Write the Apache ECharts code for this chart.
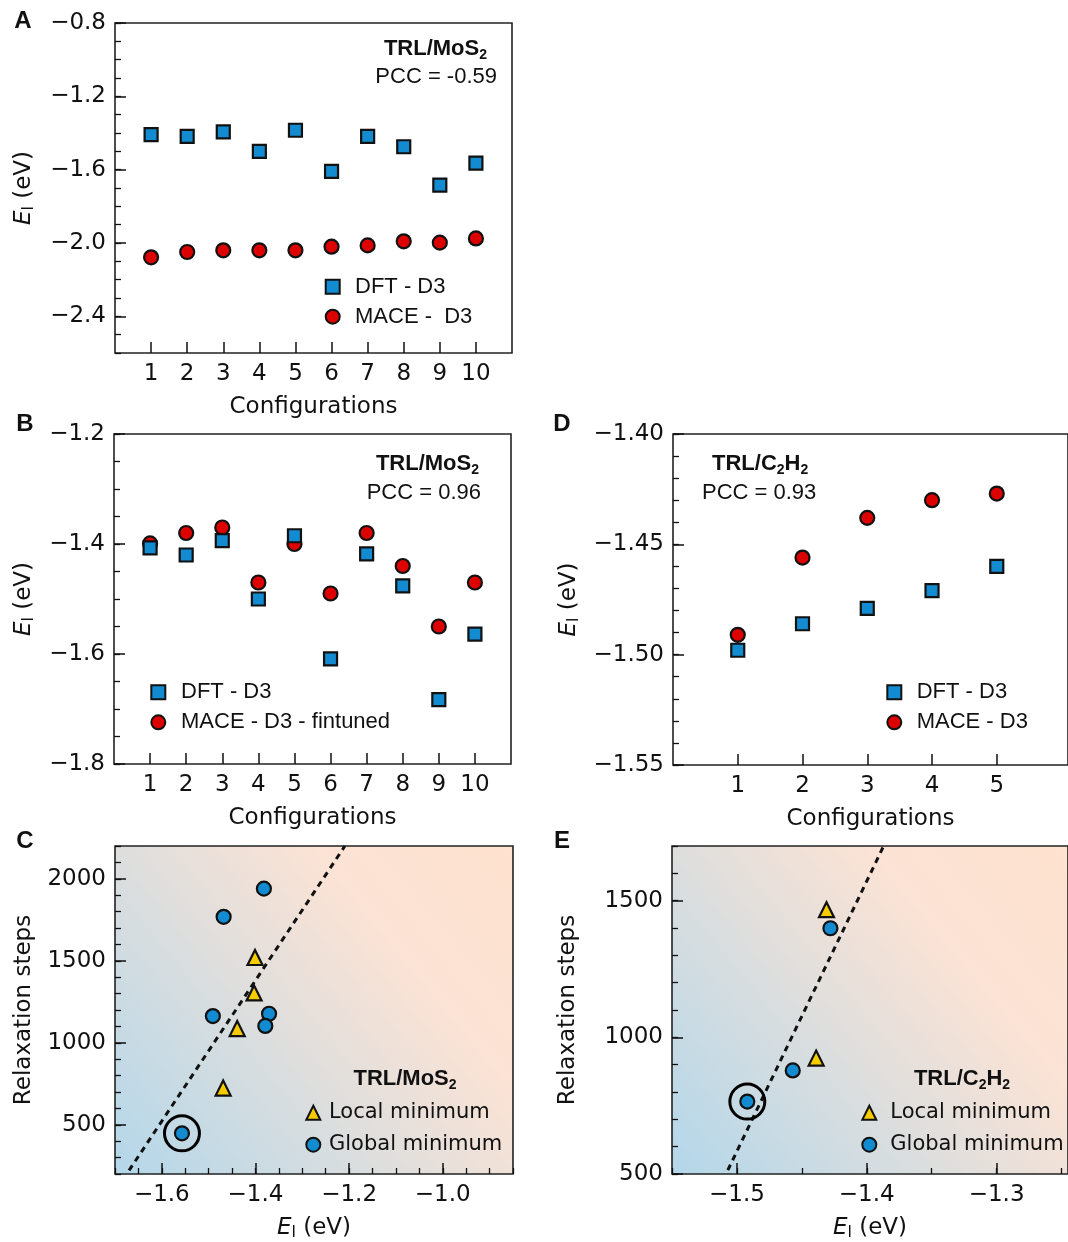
<!DOCTYPE html>
<html>
<head>
<meta charset="utf-8">
<script src="https://cdn.jsdelivr.net/npm/echarts@6/dist/echarts.min.js"></script>
<style>
  html, body { margin: 0; padding: 0; background: #fff; }
  #chart { width: 1068px; height: 1242px; }
</style>
</head>
<body>
<div id="chart"></div>
<script>
// ---------- data ----------
// A: TRL/MoS2, DFT vs MACE (not finetuned)
const configsA = [1, 2, 3, 4, 5, 6, 7, 8, 9, 10];
const dftA  = [-1.409, -1.418, -1.394, -1.500, -1.385, -1.609, -1.418, -1.475, -1.684, -1.564];
const maceA = [-2.078, -2.049, -2.040, -2.040, -2.040, -2.020, -2.013, -1.991, -1.998, -1.975];
// B: TRL/MoS2, DFT vs MACE finetuned
const dftB  = [-1.407, -1.420, -1.394, -1.500, -1.385, -1.609, -1.418, -1.476, -1.683, -1.564];
const maceB = [-1.399, -1.380, -1.370, -1.470, -1.400, -1.490, -1.380, -1.440, -1.550, -1.470];
// D: TRL/C2H2
const configsD = [1, 2, 3, 4, 5];
const dftD  = [-1.498, -1.486, -1.479, -1.471, -1.460];
const maceD = [-1.491, -1.456, -1.438, -1.430, -1.427];
// C: [E_I (eV), relaxation steps]
const localC  = [[-1.401, 1520], [-1.403, 1304], [-1.439, 1087], [-1.469, 724]];
const globalC = [[-1.557, 448], [-1.468, 1768], [-1.382, 1940], [-1.491, 1163], [-1.371, 1177], [-1.379, 1103]];
const fitC    = [[-1.670, 222], [-1.209, 2200]];
const ringC   = [globalC[0]];
// E
const localE  = [[-1.431, 1467], [-1.439, 924]];
const globalE = [[-1.428, 1399], [-1.457, 879], [-1.492, 765]];
const fitE    = [[-1.507, 514], [-1.387, 1700]];
const ringE   = [globalE[2]];

// tick labels
const ticksA_y = [-2.4, -2.0, -1.6, -1.2, -0.8];
const ticksB_y = [-1.8, -1.6, -1.4, -1.2];
const ticksD_y = [-1.55, -1.50, -1.45, -1.40];
const ticksC_x = [-1.6, -1.4, -1.2, -1.0];
const ticksC_y = [500, 1000, 1500, 2000];
const ticksE_x = [-1.5, -1.4, -1.3];
const ticksE_y = [500, 1000, 1500];

// ---------- styles ----------
const BLUE = '#138bd0';
const RED = '#dd0000';
const YELLOW = '#f6cc00';
const INK = '#111';
const TICK_FONT = 'DejaVu Sans';
const ARIAL = 'Liberation Sans';

function minorTicks(min, max, step) {
  const out = [];
  for (let v = min; v <= max + 1e-9; v += step) out.push(+v.toFixed(4));
  return out;
}
function fmt(v, dec) {
  return (v < 0 ? '\u2212' : '') + Math.abs(v).toFixed(dec);
}

const bgGrad = new echarts.graphic.LinearGradient(0, 1, 1, 0, [
  { offset: 0, color: '#b3d7ea' },
  { offset: 0.45, color: '#e2dfdc' },
  { offset: 0.7, color: '#fbe3d5' },
  { offset: 1, color: '#ffe2cf' }
]);

const eName = '{e|E}{s|I}{t| (eV)}';
const eRich = {
  e: { fontFamily: TICK_FONT, fontStyle: 'italic', fontSize: 23, color: INK, lineHeight: 26 },
  s: { fontFamily: TICK_FONT, fontSize: 15, color: INK, verticalAlign: 'bottom', lineHeight: 15 },
  t: { fontFamily: TICK_FONT, fontSize: 23, color: INK, lineHeight: 26 }
};

const grids = [], xAxes = [], yAxes = [], series = [];

function mkAxis(gi, kind, a) {
  const main = {
    type: 'value', gridIndex: gi, min: a.min, max: a.max,
    position: kind === 'x' ? 'bottom' : 'left',
    axisLine: { show: false, onZero: false },
    splitLine: { show: false },
    axisTick: { show: true, inside: true, length: 11, lineStyle: { color: INK, width: 1.5 }, customValues: a.major },
    axisLabel: {
      customValues: a.labels || a.major,
      formatter: v => fmt(v, a.dec),
      color: INK, fontFamily: TICK_FONT, fontSize: 23,
      margin: kind === 'x' ? 10 : 9
    },
    name: a.name, nameLocation: 'middle', nameGap: a.gap,
    nameRotate: kind === 'y' ? 90 : 0,
    nameTextStyle: { fontFamily: TICK_FONT, fontSize: 23, color: INK, rich: eRich }
  };
  const list = kind === 'x' ? xAxes : yAxes;
  const idx = list.length;
  list.push(main);
  if (a.minor) {
    list.push({
      type: 'value', gridIndex: gi, min: a.min, max: a.max,
      position: kind === 'x' ? 'bottom' : 'left',
      axisLine: { show: false, onZero: false },
      splitLine: { show: false },
      axisLabel: { show: false },
      axisTick: { show: true, inside: true, length: 6, lineStyle: { color: INK, width: 1.3 }, customValues: a.minor }
    });
  }
  return idx;
}

function panel(p) {
  const gi = grids.length;
  grids.push({
    left: p.left, top: p.top, width: p.width, height: p.height,
    show: true, backgroundColor: p.bg || '#fff', borderColor: '#222', borderWidth: 1.6
  });
  const xi = mkAxis(gi, 'x', p.x);
  const yi = mkAxis(gi, 'y', p.y);
  return { xi, yi };
}

function scatter(name, ax, data, symbol, size, color, z) {
  series.push({
    type: 'scatter', name, xAxisIndex: ax.xi, yAxisIndex: ax.yi, data,
    symbol, symbolSize: size, z: z || 2,
    itemStyle: { color, borderColor: INK, borderWidth: 2.2, opacity: 1 },
    emphasis: { disabled: true }
  });
}
function ring(ax, data) {
  series.push({
    type: 'scatter', xAxisIndex: ax.xi, yAxisIndex: ax.yi, data, symbol: 'circle', symbolSize: 35, silent: true, z: 2,
    itemStyle: { color: 'rgba(0,0,0,0)', borderColor: '#000', borderWidth: 3, opacity: 1 }
  });
}
function fitLine(ax, data) {
  series.push({
    type: 'line', xAxisIndex: ax.xi, yAxisIndex: ax.yi, data, symbol: 'none', silent: true, z: 1,
    lineStyle: { color: INK, width: 3, type: [6, 5] }
  });
}
function pairs(xs, ys) { return xs.map((x, i) => [x, ys[i]]); }

// ---------- panel A ----------
const axA = panel({
  left: 115, top: 23, width: 397, height: 330,
  x: { min: 0, max: 11, major: configsA, dec: 0, name: 'Configurations', gap: 43 },
  y: { min: -2.6, max: -0.8, major: ticksA_y, minor: minorTicks(-2.6, -0.8, 0.1), dec: 1, name: eName, gap: 78 }
});
scatter('MACE -  D3', axA, pairs(configsA, maceA), 'circle', 14, RED);
scatter('DFT - D3', axA, pairs(configsA, dftA), 'rect', 13, BLUE);

// ---------- panel B ----------
const axB = panel({
  left: 114, top: 434, width: 397, height: 330,
  x: { min: 0, max: 11, major: configsA, dec: 0, name: 'Configurations', gap: 43 },
  y: { min: -1.8, max: -1.2, major: ticksB_y, minor: minorTicks(-1.8, -1.2, 0.05), dec: 1, name: eName, gap: 77 }
});
scatter('MACE - D3 - fintuned', axB, pairs(configsA, maceB), 'circle', 14, RED);
scatter('DFT - D3', axB, pairs(configsA, dftB), 'rect', 13, BLUE);

// ---------- panel D ----------
const axD = panel({
  left: 673, top: 434, width: 400, height: 331,
  x: { min: 0, max: 6.1, major: configsD, dec: 0, name: 'Configurations', gap: 43 },
  y: { min: -1.55, max: -1.40, major: ticksD_y, minor: minorTicks(-1.55, -1.40, 0.01), dec: 2, name: eName, gap: 91 }
});
scatter('MACE - D3', axD, pairs(configsD, maceD), 'circle', 14, RED);
scatter('DFT - D3', axD, pairs(configsD, dftD), 'rect', 13, BLUE);

// ---------- panel C ----------
const axC = panel({
  left: 115, top: 846, width: 398, height: 331, bg: bgGrad,
  x: { min: -1.7, max: -0.85, major: ticksC_x, minor: minorTicks(-1.7, -0.85, 0.05), dec: 1, name: eName, gap: 41 },
  y: { min: 200, max: 2200, major: ticksC_y, minor: minorTicks(200, 2200, 100), dec: 0, name: 'Relaxation steps', gap: 79 }
});
fitLine(axC, fitC);
ring(axC, ringC);
scatter('Global minimum', axC, globalC, 'circle', 14, BLUE, 3);
scatter('Local minimum', axC, localC, 'triangle', 15, YELLOW, 3);

// ---------- panel E ----------
const axE = panel({
  left: 672, top: 846, width: 401, height: 331, bg: bgGrad,
  x: { min: -1.55, max: -1.245, major: ticksE_x, minor: minorTicks(-1.55, -1.25, 0.05), dec: 1, name: eName, gap: 41 },
  y: { min: 500, max: 1700, major: ticksE_y, minor: minorTicks(500, 1700, 100), dec: 0, name: 'Relaxation steps', gap: 92 }
});
fitLine(axE, fitE);
ring(axE, ringE);
scatter('Global minimum', axE, globalE, 'circle', 14, BLUE, 3);
scatter('Local minimum', axE, localE, 'triangle', 15, YELLOW, 3);

// ---------- legends ----------
// cx: icon centre, tx: where the text starts
function legend(names, cx, tx, top, gap, font, size) {
  return {
    data: names, left: cx - 7, top, orient: 'vertical', padding: 0,
    itemWidth: 14, itemHeight: 14, itemGap: gap, selectedMode: false,
    itemStyle: { borderColor: INK, borderWidth: 2 },
    textStyle: { fontFamily: font, fontSize: size, color: INK, padding: [0, 0, 0, tx - cx - 12] }
  };
}
const legends = [
  legend(['DFT - D3', 'MACE -  D3'], 331.7, 354, 275.7, 8, ARIAL, 22),
  legend(['DFT - D3', 'MACE - D3 - fintuned'], 157.3, 180, 681.3, 8, ARIAL, 22),
  legend(['DFT - D3', 'MACE - D3'], 893.3, 915.7, 681.3, 8, ARIAL, 22),
  legend(['Local minimum', 'Global minimum'], 312.3, 328, 1102.2, 11, TICK_FONT, 21),
  legend(['Local minimum', 'Global minimum'], 868.3, 889.3, 1102.2, 11, TICK_FONT, 21)
];

// ---------- annotation texts ----------
const boldRich = {
  b: { fontFamily: ARIAL, fontWeight: 'bold', fontSize: 22, fill: INK, lineHeight: 26 },
  s: { fontFamily: ARIAL, fontWeight: 'bold', fontSize: 14, fill: INK, verticalAlign: 'bottom', lineHeight: 14 }
};
function label(text, x, y, align, opts) {
  return {
    type: 'text', x, y, silent: true, z: 100,
    style: Object.assign({
      text, align, verticalAlign: 'middle', fill: INK,
      fontFamily: ARIAL, fontSize: 22, rich: boldRich
    }, opts || {})
  };
}
const panelLetter = (t, x, y) => label(t, x, y, 'center', { fontWeight: 'bold', fontSize: 24 });

const graphics = [
  panelLetter('A', 23, 21), panelLetter('B', 25, 424), panelLetter('D', 562, 424),
  panelLetter('C', 25, 841), panelLetter('E', 562, 841),
  label('{b|TRL/MoS}{s|2}', 487, 49, 'right'),
  label('PCC = -0.59', 497, 77, 'right'),
  label('{b|TRL/MoS}{s|2}', 479, 464, 'right'),
  label('PCC = 0.96', 481, 493, 'right'),
  label('{b|TRL/C}{s|2}{b|H}{s|2}', 712, 464, 'left'),
  label('PCC = 0.93', 702, 493, 'left'),
  label('{b|TRL/MoS}{s|2}', 405, 1079, 'center'),
  label('{b|TRL/C}{s|2}{b|H}{s|2}', 962, 1079, 'center')
];

const chart = echarts.init(document.getElementById('chart'));
chart.setOption({
  animation: false,
  backgroundColor: '#fff',
  grid: grids,
  xAxis: xAxes,
  yAxis: yAxes,
  legend: legends,
  series,
  graphic: graphics
});
</script>
</body>
</html>
